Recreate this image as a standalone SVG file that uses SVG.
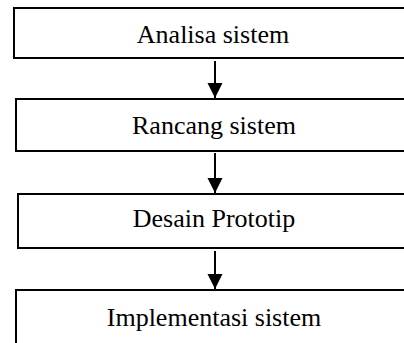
<svg xmlns="http://www.w3.org/2000/svg" width="404" height="343" viewBox="0 0 404 343">
<style>
.box{fill:#fff;stroke:#000;stroke-width:2}
.lbl{font-family:"Liberation Serif","Times New Roman",serif;font-size:26px;fill:#000;text-anchor:middle}
.conn{stroke:#000;stroke-width:2;fill:none}
</style>
<defs>
<marker id="ah" markerUnits="userSpaceOnUse" markerWidth="16" markerHeight="16" viewBox="0 0 16 16" refX="15" refY="8" orient="auto">
<path d="M0,0.5 L15,8 L0,15.5 Z" fill="#000"/>
</marker>
</defs>
<rect width="404" height="343" fill="#fff"/>
<g id="n1"><rect class="box" x="14" y="8" width="400" height="50"/><text class="lbl" x="213" y="43">Analisa sistem</text></g>
<g id="n2"><rect class="box" x="16" y="99" width="400" height="52"/><text class="lbl" x="214" y="134">Rancang sistem</text></g>
<g id="n3"><rect class="box" x="18" y="194" width="400" height="54"/><text class="lbl" x="214" y="227">Desain Prototip</text></g>
<g id="n4"><rect class="box" x="16" y="290" width="400" height="70"/><text class="lbl" x="214" y="326">Implementasi sistem</text></g>
<g id="connectors">
<line class="conn" x1="215" y1="61" x2="215" y2="98" marker-end="url(#ah)"/>
<line class="conn" x1="215" y1="153" x2="215" y2="193" marker-end="url(#ah)"/>
<line class="conn" x1="215" y1="251" x2="215" y2="289" marker-end="url(#ah)"/>
</g>
</svg>
